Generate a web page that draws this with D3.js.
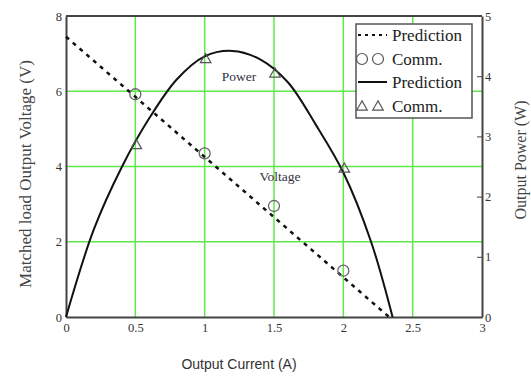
<!DOCTYPE html>
<html>
<head>
<meta charset="utf-8">
<script src="https://cdn.jsdelivr.net/npm/d3@7"></script>
<style>
  body { margin: 0; background: #fff; }
  .serif { font-family: "Liberation Serif", "Times New Roman", serif; }
  .axis path, .axis line { stroke: #444; }
  .axis text { font-family: "Liberation Serif", "Times New Roman", serif; font-size: 12.5px; fill: #333; }
</style>
</head>
<body>
<svg id="chart" width="531" height="376"></svg>
<script>
// x axis: output current (A)
const xTicks = [0, 0.5, 1, 1.5, 2, 2.5, 3];
const vTicks = [0, 2, 4, 6, 8];
const pTicks = [0, 1, 2, 3, 4, 5];

// voltage prediction (dotted straight line) and measured circles
const vPredI = [0, 2.33];
const vPredV = [7.45, 0];
const vCommI = [0.5, 1, 1.5, 2];
const vCommV = [5.92, 4.35, 2.95, 1.23];

const pPredI = [0, 0.2, 0.4, 0.6, 0.8, 1.0, 1.2, 1.4, 1.6, 1.8, 2.0, 2.2, 2.355];
const pPredP = [0, 1.45, 2.48, 3.3, 3.95, 4.33, 4.42, 4.28, 3.9, 3.2, 2.4, 1.25, 0];
const pCommI = [0.5, 1, 1.5, 2];
const pCommP = [2.88, 4.31, 4.07, 2.49];

const legendLabels = ["Prediction", "Comm.", "Prediction", "Comm."];

const svg = d3.select("#chart");
const mLeft = 66, mRight = 482, mTop = 16, mBottom = 317;

let x = d3.scaleLinear().domain([0, 3]).range([mLeft, mRight]);
let yV = d3.scaleLinear().domain([0, 8]).range([mBottom, mTop]);
let yP = d3.scaleLinear().domain([0, 5]).range([mBottom, mTop]);

const green = "#5fe84a";

// grid lines
svg.append("g").selectAll("line")
    .data(xTicks.filter(d => d > 0 && d < 3))
    .enter().append("line")
    .attr("x1", d => x(d)).attr("x2", d => x(d))
    .attr("y1", mTop).attr("y2", mBottom)
    .attr("stroke", green).attr("stroke-width", 1.5);

svg.append("g").selectAll("line")
    .data(vTicks.filter(d => d > 0 && d < 8))
    .enter().append("line")
    .attr("x1", mLeft).attr("x2", mRight)
    .attr("y1", d => yV(d)).attr("y2", d => yV(d))
    .attr("stroke", green).attr("stroke-width", 1.5);

// axes
svg.append("g").attr("class", "axis")
    .attr("transform", `translate(0,${mBottom})`)
    .call(d3.axisBottom(x).tickValues(xTicks).tickSize(0).tickPadding(6).tickFormat(d3.format("")));

svg.append("g").attr("class", "axis")
    .attr("transform", `translate(${mLeft},0)`)
    .call(d3.axisLeft(yV).tickValues(vTicks).tickSize(0).tickPadding(4));

svg.append("g").attr("class", "axis")
    .attr("transform", `translate(${mRight},0)`)
    .call(d3.axisRight(yP).tickValues(pTicks).tickSizeInner(-5).tickSizeOuter(0).tickPadding(3).tickFormat(d3.format("d")));

svg.selectAll(".axis path").attr("stroke-width", 2);

// top frame
svg.append("line")
    .attr("x1", mLeft).attr("x2", mRight)
    .attr("y1", mTop).attr("y2", mTop)
    .attr("stroke", "#444").attr("stroke-width", 2);

// voltage prediction line
let vLine = d3.line().x(d => x(d[0])).y(d => yV(d[1]));
svg.append("path")
    .datum(vPredI.map((d, i) => [d, vPredV[i]]))
    .attr("d", vLine)
    .attr("fill", "none").attr("stroke", "#111")
    .attr("stroke-width", 2.5).attr("stroke-dasharray", "4,5");

// power prediction curve
let pLine = d3.line().x(d => x(d[0])).y(d => yP(d[1])).curve(d3.curveCatmullRom);
svg.append("path")
    .datum(pPredI.map((d, i) => [d, pPredP[i]]))
    .attr("d", pLine)
    .attr("fill", "none").attr("stroke", "#111").attr("stroke-width", 2);

// measured points
svg.append("g").selectAll("circle")
    .data(vCommI.map((d, i) => [d, vCommV[i]]))
    .enter().append("circle")
    .attr("cx", d => x(d[0])).attr("cy", d => yV(d[1]))
    .attr("r", 5.5)
    .attr("fill", "none").attr("stroke", "#666").attr("stroke-width", 1.3);

let tri = d3.symbol().type(d3.symbolTriangle).size(48);
svg.append("g").selectAll("path")
    .data(pCommI.map((d, i) => [d, pCommP[i]]))
    .enter().append("path")
    .attr("d", tri)
    .attr("transform", d => `translate(${x(d[0]) + 1},${yP(d[1]) + 2})`)
    .attr("fill", "none").attr("stroke", "#555").attr("stroke-width", 1.2);

// curve labels
svg.append("text").attr("class", "serif")
    .attr("x", 239).attr("y", 81).attr("text-anchor", "middle")
    .style("font-size", "13.5px").attr("fill", "#334")
    .text("Power");
svg.append("text").attr("class", "serif")
    .attr("x", 280).attr("y", 181).attr("text-anchor", "middle")
    .style("font-size", "13.5px").attr("fill", "#334")
    .text("Voltage");

// legend
let lg = svg.append("g");
lg.append("rect")
    .attr("x", 356).attr("y", 24).attr("width", 116).attr("height", 94)
    .attr("fill", "#fff").attr("stroke", "#555").attr("stroke-width", 1.5);

const rowY = [35, 59, 82, 106];
lg.selectAll("text")
    .data(legendLabels)
    .enter().append("text").attr("class", "serif")
    .attr("x", 392).attr("y", (d, i) => rowY[i])
    .attr("dy", "0.35em")
    .style("font-size", "17px").attr("fill", "#222")
    .text(d => d);

lg.append("line")
    .attr("x1", 358).attr("x2", 387).attr("y1", rowY[0]).attr("y2", rowY[0])
    .attr("stroke", "#111").attr("stroke-width", 2).attr("stroke-dasharray", "3,4");
lg.selectAll("circle")
    .data([362, 378])
    .enter().append("circle")
    .attr("cx", d => d).attr("cy", rowY[1]).attr("r", 5.5)
    .attr("fill", "none").attr("stroke", "#555").attr("stroke-width", 1.2);
lg.append("line")
    .attr("x1", 358).attr("x2", 387).attr("y1", rowY[2]).attr("y2", rowY[2])
    .attr("stroke", "#111").attr("stroke-width", 2);
lg.selectAll(".ltri")
    .data([362, 378])
    .enter().append("path").attr("class", "ltri")
    .attr("d", tri)
    .attr("transform", d => `translate(${d},${rowY[3] + 1})`)
    .attr("fill", "none").attr("stroke", "#555").attr("stroke-width", 1.2);

// axis titles
svg.append("text").attr("class", "serif")
    .attr("transform", `translate(31,174) rotate(-90)`)
    .attr("text-anchor", "middle")
    .style("font-size", "17px").attr("fill", "#444")
    .text("Matched load Output Voltage (V)");

svg.append("text").attr("class", "serif")
    .attr("transform", `translate(526,160) rotate(-90)`)
    .attr("text-anchor", "middle")
    .style("font-size", "16px").attr("fill", "#444")
    .text("Output Power (W)");

svg.append("text")
    .attr("x", 239).attr("y", 369).attr("text-anchor", "middle")
    .style("font-family", "'Liberation Sans', Arial, sans-serif")
    .style("font-size", "14px").attr("fill", "#333")
    .text("Output Current (A)");
</script>
</body>
</html>
